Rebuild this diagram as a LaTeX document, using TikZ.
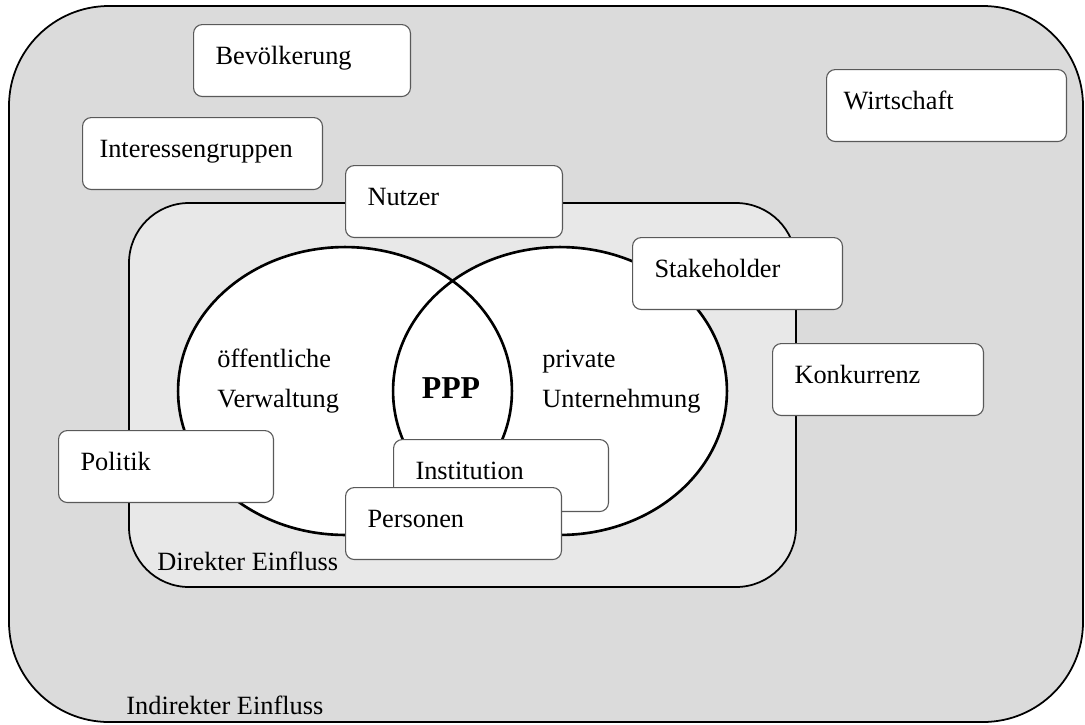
\documentclass[tikz,border=0pt]{standalone}
\usepackage{fontspec}
\setmainfont{Liberation Serif}
\usetikzlibrary{shapes.geometric}
\tikzset{
    % Fill of the area of indirect influence
    indirect fill/.style={fill=black!14},
    % A lighter fill for the area of direct influence
    direct fill/.style={fill=black!9},
%
    % Boxes for the influencing groups, text sits left in the box
    factor/.style={
        draw=black!65, fill=white, line width=0.5pt, rounded corners=4pt,
        anchor=north west, align=left, text width=#1,
        inner xsep=0.352cm, inner ysep=0, minimum height=1.152cm,
        text height=0.7em, text depth=0.35em},
%
    % Plain text placed by its baseline
    caption/.style={anchor=base west, inner sep=0}}

\begin{document}
\begin{tikzpicture}[x=0.016cm, y=-0.016cm,
    every node/.style={font=\fontsize{12}{14}\selectfont},
    region/.style={draw, line width=0.8pt},
    lens/.style={ellipse, inner sep=0, minimum width=5.344cm,
        minimum height=4.608cm}]
\useasboundingbox (0,0) rectangle (1085,724);

% Areas of indirect and direct influence
\path[region, indirect fill, rounded corners=1.6cm]
    (9,6) rectangle (1083,722);
\path[region, direct fill, rounded corners=0.96cm]
    (129,203) rectangle (796,587);

% Public administration and private company overlapping in the PPP
\foreach \c/\n in {345/public, 560/private}
    \node[lens, fill=white] (\n) at (\c,391) {};
\foreach \n in {public, private}
    \node[lens, draw, line width=1.2pt] (\n outline) at (\n) {};

\node[caption] (public top) at (217,367) {öffentliche};
\node[caption] (public bottom) at (217,407) {Verwaltung};
\node[caption] (private top) at (542,367) {private};
\node[caption] (private bottom) at (542,407) {Unternehmung};
\node[anchor=base, inner sep=0, font=\fontsize{14.5}{16}\selectfont\bfseries]
    (ppp) at (451,398) {PPP};

\node[caption] (direct) at (157,570) {Direkter Einfluss};
\node[caption] (indirect) at (126,714) {Indirekter Einfluss};

% Influencing groups
\node[factor=3.296cm, inner xsep=0.272cm] (groups) at (82,117)
    {Interessengruppen};
\node[factor=2.768cm] (people) at (193,24) {Bevölkerung};
\node[factor=3.296cm, inner xsep=0.272cm] (economy) at (826,69)
    {Wirtschaft};
\node[factor=2.768cm] (users) at (345,165) {Nutzer};
\node[factor=2.656cm] (stakeholder) at (632,237) {Stakeholder};
\node[factor=2.672cm] (competition) at (772,343) {Konkurrenz};
\node[factor=2.736cm] (politics) at (58,430) {Politik};
\node[factor=2.736cm] (institution) at (393,439) {Institution};
\node[factor=2.752cm] (persons) at (345,487) {Personen};
\end{tikzpicture}
\end{document}
